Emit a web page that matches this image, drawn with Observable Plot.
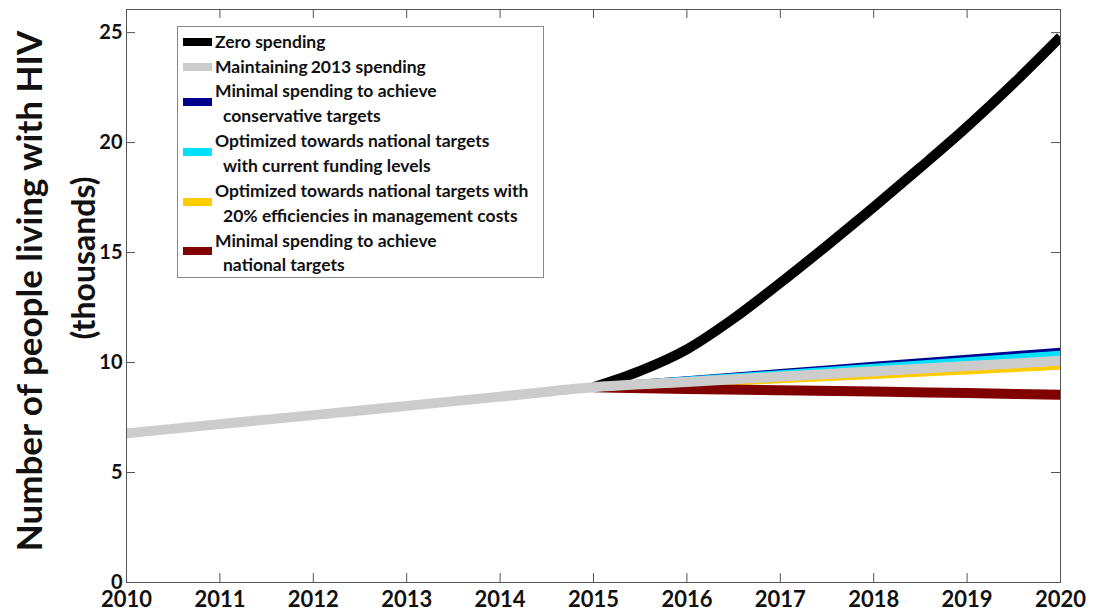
<!DOCTYPE html>
<html><head><meta charset="utf-8">
<script src="https://cdn.jsdelivr.net/npm/d3@7"></script>
<script src="https://cdn.jsdelivr.net/npm/@observablehq/plot@0.6"></script>
<style>
body{margin:0;background:#fff;}
#wrap{position:relative;width:1093px;height:614px;font-family:Lato,sans-serif;}
#legend{position:absolute;left:177px;top:26px;width:365px;height:250px;border:1px solid #888;background:#fff;}
.sw{position:absolute;left:5px;width:29px;height:8px;}
.lt{position:absolute;font-size:17.5px;font-weight:700;color:#111;white-space:nowrap;line-height:20px;}
</style></head><body><div id="wrap"></div>
<script>
// ---- data ----
const histYears = [2010, 2011, 2012, 2013, 2014, 2015];
const histValues = [6.78, 7.2, 7.61, 8.03, 8.45, 8.88];
const zeroYears = [2015, 2015.5, 2016, 2016.5, 2017, 2017.5, 2018, 2018.5, 2019, 2019.5, 2020];
const zeroSpending = [8.88, 9.62, 10.6, 12.0, 13.62, 15.32, 17.07, 18.87, 20.72, 22.7, 24.8];
const projYears = [2015, 2016, 2017, 2018, 2019, 2020];
const maintain2013 = [8.88, 9.12, 9.36, 9.6, 9.84, 10.08];
const minimalConservative = [8.88, 9.2, 9.52, 9.85, 10.17, 10.49];
const optimizedCurrent = [8.88, 9.18, 9.47, 9.76, 10.06, 10.35];
const optimizedEfficiencies = [8.88, 9.05, 9.24, 9.43, 9.64, 9.85];
const minimalNational = [8.88, 8.8, 8.74, 8.68, 8.61, 8.54];

const xTicks = [2010, 2011, 2012, 2013, 2014, 2015, 2016, 2017, 2018, 2019, 2020];
const yTicks = [0, 5, 10, 15, 20, 25];
const yLabelLines = ["Number of people living with HIV", "(thousands)"];

const legendNames = [
  ["Zero spending"],
  ["Maintaining", "2013 spending"],
  ["Minimal spending to achieve", "conservative targets"],
  ["Optimized towards national targets", "with current funding levels"],
  ["Optimized towards national targets with", "20% efficiencies in management costs"],
  ["Minimal spending to achieve", "national targets"]
];
const colors = ["#000000", "#cccccc", "#00008f", "#00e0ff", "#ffcc00", "#800000"];

// ---- tables ----
const toRows = (xs, vs) => xs.map((x, i) => ({year: x, value: vs[i]}));
const zeroRows = toRows(zeroYears, zeroSpending);
const grayRows = toRows(histYears, histValues).concat(toRows(projYears.slice(1), maintain2013.slice(1)));
const series = {
  zero: zeroRows,
  maintain: grayRows,
  cons: toRows(projYears, minimalConservative),
  cur: toRows(projYears, optimizedCurrent),
  eff: toRows(projYears, optimizedEfficiencies),
  nat: toRows(projYears, minimalNational)
};

const W = 1093, H = 614, mL = 126, mR = 33, mT = 9, mB = 32;
const fw = W - mL - mR, fh = H - mT - mB;
const tick = 9;
const lineOpts = (c, w) => ({x: "year", y: "value", stroke: c, strokeWidth: w, curve: "monotone-x", strokeLinecap: "butt", clip: true});

const chart = Plot.plot({
  width: W, height: H,
  marginLeft: mL, marginRight: mR, marginTop: mT, marginBottom: mB,
  x: {domain: [2010, 2020]},
  y: {domain: [0, 26.05]},
  style: {fontFamily: "Lato, sans-serif", background: "white", color: "#111"},
  marks: [
    Plot.axisX({ticks: xTicks, tickFormat: d => String(d), tickSize: 0, tickPadding: 9, fontSize: 22, fontWeight: "bold", label: null}),
    Plot.axisY({ticks: yTicks, tickSize: 0, tickPadding: 4, fontSize: 20, fontWeight: "bold", label: null}),
    Plot.tickX(xTicks, {x: d => d, insetTop: fh - tick, stroke: "#555"}),
    Plot.tickX(xTicks, {x: d => d, insetBottom: fh - tick, stroke: "#555"}),
    Plot.tickY(yTicks, {y: d => d, insetRight: fw - tick, stroke: "#555"}),
    Plot.tickY(yTicks, {y: d => d, insetLeft: fw - tick, stroke: "#555"}),
    Plot.line(series.zero, lineOpts(colors[0], 10)),
    Plot.line(series.cons, lineOpts(colors[2], 8)),
    Plot.line(series.cur, lineOpts(colors[3], 8)),
    Plot.line(series.eff, lineOpts(colors[4], 8)),
    Plot.line(series.nat, lineOpts(colors[5], 10)),
    Plot.line(series.maintain, lineOpts(colors[1], 10)),
    Plot.frame({stroke: "#555"}),
    Plot.text([yLabelLines[0]], {text: d => d, frameAnchor: "left", dx: -96, dy: -5, rotate: -90, textAnchor: "middle", fontSize: 35, fontWeight: "bold", fill: "#111"}),
    Plot.text([yLabelLines[1]], {text: d => d, frameAnchor: "left", dx: -42, dy: -38, rotate: -90, textAnchor: "middle", fontSize: 32, fontWeight: "bold", fill: "#111"})
  ]
});
const wrap = document.getElementById("wrap");
wrap.appendChild(chart);

// ---- legend (inside plot area) ----
const leg = document.createElement("div");
leg.id = "legend";
const pitch = 24.85, first = 14.7;
let line = 0;
legendNames.forEach((lines, i) => {
  const sw = document.createElement("div");
  sw.className = "sw";
  sw.style.background = colors[i];
  let cy;
  if (i === 1) {
    cy = first + line * pitch;
    const t = document.createElement("div");
    t.className = "lt";
    t.style.left = "37px";
    t.style.top = (cy - 10) + "px";
    t.innerHTML = lines[0] + '<span style="margin-left:3px">' + lines[1] + '</span>';
    leg.appendChild(t);
    line += 1;
  } else {
    const c0 = first + line * pitch;
    lines.forEach((s, j) => {
      const t = document.createElement("div");
      t.className = "lt";
      t.style.left = (j === 0 ? 37 : 45) + "px";
      t.style.top = (first + line * pitch - 10) + "px";
      t.textContent = s;
      leg.appendChild(t);
      line += 1;
    });
    cy = lines.length > 1 ? c0 + pitch / 2 - 1.5 : c0;
  }
  sw.style.top = (cy - 4) + "px";
  leg.appendChild(sw);
});
wrap.appendChild(leg);
</script>
</body></html>
